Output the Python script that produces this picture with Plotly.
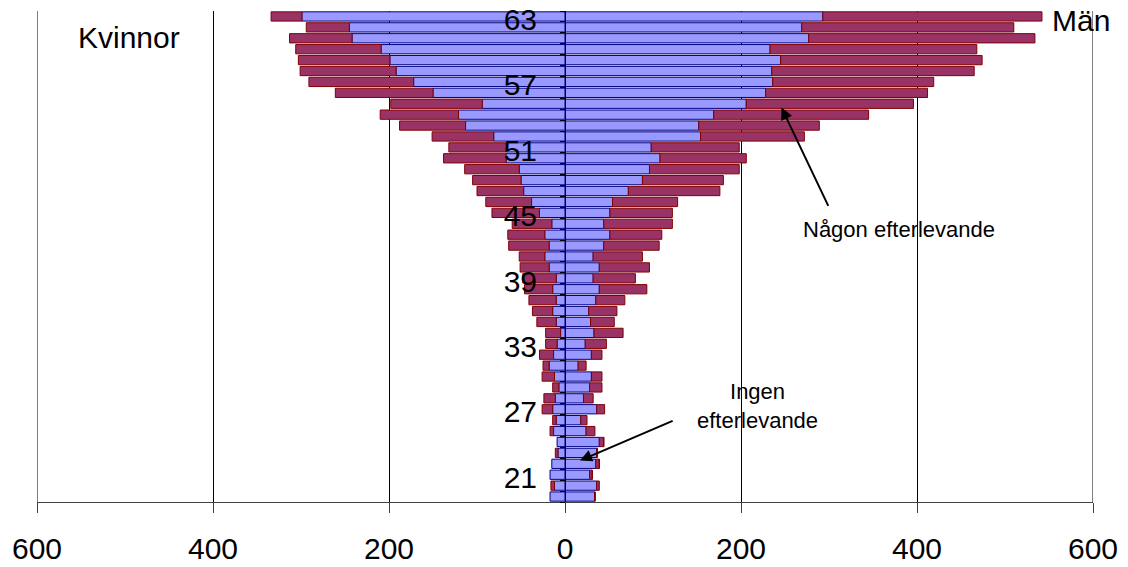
import plotly.graph_objects as go

# Ages from top (63) to bottom (19)
ages = list(range(63, 18, -1))

# Men (right side)
men_ingen = [293, 269, 277, 233, 245, 235, 236, 228, 206, 169, 152, 154, 98, 108, 96,
             88, 72, 54, 51, 44, 51, 44, 32, 39, 32, 39, 35, 27, 29, 33,
             23, 30, 15, 30, 28, 21, 36, 18, 24, 39, 36, 35, 28, 36, 34]
men_nagon = [249, 241, 257, 235, 229, 230, 183, 184, 190, 176, 137, 118, 100, 98, 102,
             92, 104, 74, 71, 78, 59, 63, 56, 57, 48, 54, 33, 32, 27, 33,
             24, 12, 9, 12, 14, 11, 9, 7, 10, 5, 1, 4, 3, 3, 0]

# Women (left side)
women_ingen = [299, 245, 242, 209, 199, 192, 172, 150, 94, 121, 113, 81, 67, 67, 52,
               50, 47, 38, 29, 15, 23, 18, 23, 18, 10, 14, 10, 14, 10, 5,
               9, 13, 18, 12, 7, 11, 14, 10, 13, 9, 8, 15, 17, 12, 17]
women_nagon = [35, 49, 71, 97, 104, 109, 119, 111, 104, 89, 75, 70, 65, 71, 62,
               55, 53, 52, 54, 45, 42, 46, 29, 33, 38, 32, 31, 23, 22, 17,
               13, 16, 7, 14, 7, 13, 12, 4, 4, 0, 3, 0, 0, 4, 0]

age_ticks = [21, 27, 33, 39, 45, 51, 57, 63]
x_ticks = [-600, -400, -200, 0, 200, 400, 600]
x_ticktext = ["600", "400", "200", "0", "200", "400", "600"]

BLUE = "#9999FF"
BLUE_LINE = "#000080"
RED = "#993366"
RED_LINE = "#800000"
FONT = "Liberation Sans, Arial, sans-serif"

W, H = 1128, 567
PL, PR, PT, PB = 37, 1093, 11, 502  # plot area in window pixels

fig = go.Figure()
fig.add_trace(go.Bar(y=ages, x=men_ingen, orientation="h", name="Ingen efterlevande",
                     marker=dict(color=BLUE, line=dict(color=BLUE_LINE, width=1))))
fig.add_trace(go.Bar(y=ages, x=men_nagon, orientation="h", name="Någon efterlevande",
                     marker=dict(color=RED, line=dict(color=RED_LINE, width=1))))
fig.add_trace(go.Bar(y=ages, x=[-v for v in women_ingen], orientation="h",
                     marker=dict(color=BLUE, line=dict(color=BLUE_LINE, width=1))))
fig.add_trace(go.Bar(y=ages, x=[-v for v in women_nagon], orientation="h",
                     marker=dict(color=RED, line=dict(color=RED_LINE, width=1))))

fig.update_layout(
    width=W, height=H,
    margin=dict(l=PL, r=W - PR, t=PT, b=H - PB, autoexpand=False),
    barmode="relative", bargap=0.15,
    showlegend=False,
    plot_bgcolor="white", paper_bgcolor="white",
    font=dict(family=FONT, color="black"),
    xaxis=dict(range=[-600, 600], tickvals=x_ticks, ticktext=x_ticktext,
               showgrid=True, gridcolor="black", gridwidth=1,
               zeroline=False, showline=True, linecolor="#404040", linewidth=1,
               ticks="outside", ticklen=10, tickcolor="#404040",
               ticklabelstandoff=10, ticklabeloverflow="allow",
               tickfont=dict(size=30, family=FONT, color="black")),
    yaxis=dict(range=[18.5, 63.5],
               tickvals=[a - 0.25 for a in age_ticks],
               ticktext=[str(a) for a in age_ticks],
               showgrid=False,
               zeroline=False, showline=True, linecolor="black", linewidth=1,
               anchor="free", position=0.5, ticks="", ticklabelstandoff=22,
               ticklabeloverflow="allow",
               minor=dict(ticks="outside", ticklen=5, tick0=18.5, dtick=1,
                          tickcolor="black", showgrid=False),
               tickfont=dict(size=30, family=FONT, color="black")),
)

# edge gridlines at -600 and 600
for xv in (x_ticks[0], x_ticks[-1]):
    fig.add_shape(type="line", xref="x", yref="paper", x0=xv, x1=xv, y0=0, y1=1,
                  line=dict(color="black", width=1), layer="below")


def px_x(px):
    return (px - PL) / (PR - PL)


def px_y(py):
    return (PB - py) / (PB - PT)


fig.add_annotation(x=px_x(129), y=px_y(38), xref="paper", yref="paper", text="Kvinnor",
                   xanchor="center", yanchor="middle",
                   showarrow=False, font=dict(size=30, family=FONT))
fig.add_annotation(x=px_x(1081), y=px_y(21), xref="paper", yref="paper", text="Män",
                   xanchor="center", yanchor="middle",
                   showarrow=False, font=dict(size=30, family=FONT))
fig.add_annotation(x=px_x(899), y=px_y(229), xref="paper", yref="paper",
                   text="Någon efterlevande", xanchor="center", yanchor="middle",
                   showarrow=False, font=dict(size=22, family=FONT))
fig.add_annotation(x=px_x(757), y=px_y(406), xref="paper", yref="paper",
                   text="Ingen<br>efterlevande", xanchor="center", yanchor="middle",
                   showarrow=False, font=dict(size=22, family=FONT))

# Arrows (tip and tail in data coordinates)
fig.add_annotation(x=246, y=54.65, ax=300, ay=45.5, xref="x", yref="y", axref="x", ayref="y",
                   text="", showarrow=True, arrowhead=2, arrowsize=1.2, arrowwidth=2,
                   arrowcolor="black")
fig.add_annotation(x=17, y=22.3, ax=124, ay=26.0, xref="x", yref="y", axref="x", ayref="y",
                   text="", showarrow=True, arrowhead=2, arrowsize=1.2, arrowwidth=2,
                   arrowcolor="black")

# remove the default 8px page margin so the figure fills the window exactly
fig.write_html("out.html",
               config={"displayModeBar": False},
               post_script="document.body.style.margin='0';document.body.style.overflow='hidden';")
